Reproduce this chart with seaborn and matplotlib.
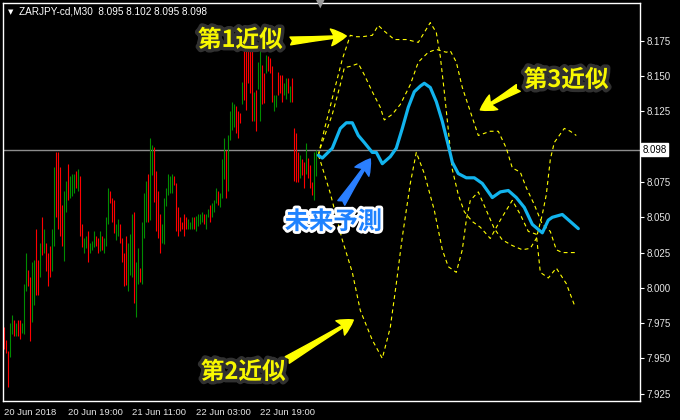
import numpy as np
import pandas as pd
import matplotlib
matplotlib.use("Agg")
import matplotlib.pyplot as plt
import matplotlib.transforms as mtransforms
import matplotlib.patheffects as pe
import seaborn as sns

# candles (M30): high, low and direction (g = up, r = down)
highs = [7.972, 7.963, 7.955, 7.975, 7.981, 7.977, 7.975, 7.977, 7.977, 7.975,
         8.003, 8.025, 8.013, 8.008, 8.018, 8.020, 8.042, 8.020, 8.032, 8.050,
         8.042, 8.032, 8.025, 8.030, 8.042, 8.086, 8.096, 8.096, 8.086, 8.059,
         8.069, 8.076, 8.088, 8.079, 8.081, 8.081, 8.083, 8.084, 8.079, 8.045,
         8.035, 8.037, 8.040, 8.032, 8.033, 8.040, 8.037, 8.035, 8.040, 8.037,
         8.035, 8.050, 8.071, 8.069, 8.064, 8.062, 8.045, 8.049, 8.045, 8.035,
         8.025, 8.037, 8.032, 8.038, 8.052, 8.054, 8.018, 8.028, 8.014, 8.047,
         8.067, 8.076, 8.081, 8.106, 8.101, 8.100, 8.083, 8.069, 8.052, 8.045,
         8.064, 8.071, 8.081, 8.079, 8.081, 8.079, 8.074, 8.057, 8.050, 8.047,
         8.052, 8.050, 8.049, 8.047, 8.050, 8.050, 8.051, 8.052, 8.052, 8.054,
         8.052, 8.052, 8.056, 8.059, 8.060, 8.062, 8.071, 8.069, 8.067, 8.091,
         8.106, 8.098, 8.108, 8.125, 8.132, 8.130, 8.129, 8.125, 8.124, 8.146,
         8.169, 8.169, 8.169, 8.169, 8.170, 8.139, 8.140, 8.160, 8.169, 8.158,
         8.152, 8.165, 8.164, 8.163, 8.157, 8.137, 8.137, 8.153, 8.151, 8.151,
         8.145, 8.149, 8.149, 8.143, 8.149, 8.113, 8.110, 8.096, 8.094, 8.091,
         8.089, 8.103, 8.092, 8.087, 8.075, 8.096, 8.098]
lows = [7.957, 7.954, 7.930, 7.951, 7.967, 7.966, 7.966, 7.966, 7.964, 7.968,
        7.967, 7.998, 8.001, 7.962, 7.976, 7.988, 7.995, 7.995, 8.008, 8.023,
        8.025, 8.012, 8.001, 8.008, 8.012, 8.030, 8.050, 8.042, 8.037, 8.030,
        8.019, 8.054, 8.062, 8.064, 8.065, 8.067, 8.071, 8.069, 8.037, 8.029,
        8.025, 8.028, 8.018, 8.025, 8.027, 8.029, 8.030, 8.025, 8.026, 8.027,
        8.025, 8.030, 8.045, 8.060, 8.047, 8.039, 8.034, 8.037, 8.032, 8.018,
        8.001, 8.002, 7.998, 8.009, 8.008, 7.989, 7.979, 8.003, 8.004, 8.003,
        8.035, 8.047, 8.047, 8.048, 8.080, 8.061, 8.040, 8.035, 8.025, 8.032,
        8.031, 8.058, 8.066, 8.067, 8.067, 8.073, 8.040, 8.037, 8.040, 8.042,
        8.037, 8.042, 8.042, 8.042, 8.042, 8.042, 8.040, 8.044, 8.045, 8.047,
        8.045, 8.042, 8.050, 8.047, 8.050, 8.054, 8.060, 8.059, 8.057, 8.064,
        8.077, 8.064, 8.069, 8.105, 8.112, 8.114, 8.110, 8.106, 8.117, 8.130,
        8.133, 8.126, 8.145, 8.138, 8.118, 8.118, 8.111, 8.141, 8.118, 8.130,
        8.131, 8.152, 8.154, 8.152, 8.132, 8.125, 8.128, 8.137, 8.138, 8.132,
        8.137, 8.134, 8.138, 8.132, 8.132, 8.076, 8.075, 8.075, 8.078, 8.080,
        8.071, 8.081, 8.078, 8.071, 8.066, 8.062, 8.079]
direction = ("rrrggrgrrg" "ggrrggrrgr" "grrrggrrrr" "ggrgggrgrr" "ggrgggrrgr"
             "gggrrrggrr" "rrgggrggrg" "ggrggrrrrg" "gggggrrrrr" "rrgggrgggg"
             "rggrgggrgg" "grggggrrrg" "rrrrrgrggr" "rgrrrggrrr" "ggrgrrrrgr"
             "rgrrrgg")

# forecast lines: bars after the last candle, price
blue_k = [1, 3, 8, 12, 15, 18, 21, 24, 28, 30, 33, 37, 40, 43, 46, 49, 52, 54, 57, 60,
          63, 66, 68, 71, 75, 79, 83, 88, 92, 96, 100, 104, 108, 113, 116, 118, 123, 127, 131]
blue_p = [8.094, 8.092, 8.099, 8.113, 8.117, 8.117, 8.108, 8.103, 8.096, 8.096,
          8.088, 8.093, 8.099, 8.113, 8.128, 8.139, 8.143, 8.145, 8.142, 8.132,
          8.118, 8.101, 8.089, 8.081, 8.078, 8.078, 8.074, 8.064, 8.068, 8.069,
          8.064, 8.057, 8.045, 8.039, 8.048, 8.050, 8.052, 8.047, 8.042]

approx1_k = [1, 4, 9, 13, 17, 20, 23, 28, 31, 34, 39, 45, 51, 54, 57, 60, 62, 64, 66, 68,
             71, 74, 78, 82, 87, 92, 98, 102, 106, 110, 112, 116, 120, 125, 129]
approx1_p = [8.094, 8.112, 8.140, 8.162, 8.179, 8.178, 8.178, 8.179, 8.186, 8.182,
             8.176, 8.176, 8.174, 8.181, 8.188, 8.181, 8.164, 8.139, 8.112, 8.084,
             8.066, 8.054, 8.047, 8.043, 8.035, 8.048, 8.062, 8.052, 8.040, 8.038,
             8.011, 8.007, 8.014, 8.003, 7.988]

approx2_k = [1, 2, 7, 13, 18, 22, 28, 33, 37, 40, 43, 47, 50, 54, 59, 63, 66, 70, 73, 75,
             77, 81, 85, 89, 93, 98, 103, 107, 110, 113, 115, 117, 119, 124, 127, 130]
approx2_p = [8.094, 8.090, 8.067, 8.034, 8.011, 7.984, 7.963, 7.950, 7.972, 8.003,
             8.036, 8.074, 8.096, 8.081, 8.055, 8.027, 8.015, 8.011, 8.027, 8.048,
             8.062, 8.068, 8.055, 8.042, 8.034, 8.030, 8.027, 8.028, 8.035, 8.052,
             8.066, 8.091, 8.103, 8.113, 8.111, 8.108]

approx3_k = [1, 2, 8, 12, 14, 17, 21, 24, 28, 32, 34, 38, 42, 47, 51, 56, 60, 65, 67, 70,
             73, 77, 81, 87, 91, 95, 98, 102, 105, 109, 113, 117, 120, 123, 130]
approx3_p = [8.094, 8.099, 8.123, 8.144, 8.156, 8.157, 8.159, 8.151, 8.139, 8.128,
             8.119, 8.123, 8.130, 8.144, 8.160, 8.167, 8.169, 8.167, 8.168, 8.160,
             8.142, 8.125, 8.108, 8.111, 8.111, 8.099, 8.085, 8.082, 8.071, 8.059,
             8.045, 8.040, 8.027, 8.025, 8.025]

price_ticks = [7.925, 7.950, 7.975, 8.000, 8.025, 8.050, 8.075, 8.100, 8.125, 8.150, 8.175]
time_ticks = [0, 32, 64, 96, 128]
time_labels = ["20 Jun 2018", "20 Jun 19:00", "21 Jun 11:00", "22 Jun 03:00", "22 Jun 19:00"]
last_price = 8.098

sns.set_style("dark", {"axes.facecolor": "black", "figure.facecolor": "black"})
plt.rcParams["font.family"] = ["Liberation Sans", "Noto Sans CJK JP", "DejaVu Sans"]

candles = pd.DataFrame({"high": highs, "low": lows, "dir": list(direction)})
candles["idx"] = np.arange(len(candles))
last = candles["idx"].iloc[-1]

fig, ax = plt.subplots(figsize=(6.8, 4.2), dpi=100)
ax.set_position([3 / 680, 19 / 420, 637 / 680, 398 / 420])

# last price line
ax.axhline(last_price, color="#8c8c8c", lw=1, zorder=1)

cols = candles["dir"].map({"g": "#008c00", "r": "#ff0000"})
ax.vlines(candles["idx"], candles["low"], candles["high"], colors=cols, lw=0.8, zorder=2)

dash = (0, (3.5, 3))
for k, p in [(approx1_k, approx1_p), (approx2_k, approx2_p), (approx3_k, approx3_p)]:
    sns.lineplot(x=last + np.array(k), y=p, ax=ax, color="#ffff00", lw=0.8,
                 linestyle=dash, sort=False, zorder=3)
sns.lineplot(x=last + np.array(blue_k), y=blue_p, ax=ax, color="#12b4ee", lw=2.3,
             sort=False, zorder=4)

ax.set_xlim(-0.65, 317.85)
ax.set_ylim(7.9198, 8.2019)

for sp in ax.spines.values():
    sp.set_color("white")
    sp.set_linewidth(1)

# the 8.100 label sits under the last-price box, so it stays blank
ax.yaxis.tick_right()
ax.set_yticks(price_ticks, ["" if abs(t - 8.1) < 1e-9 else f"{t:.3f}" for t in price_ticks])
ax.set_xticks(time_ticks, time_labels)
for lbl in ax.get_xticklabels():
    lbl.set_ha("left")
ax.tick_params(axis="y", colors="white", labelcolor="#e6e6e6", length=3, width=0.8,
               labelsize=7, pad=2, direction="out")
ax.tick_params(axis="x", colors="white", labelcolor="#e6e6e6", length=3, width=0.8,
               labelsize=6.8, pad=2, direction="out")
ax.set_xlabel("")
ax.set_ylabel("")
ax.grid(False)

# price label box
trans = mtransforms.blended_transform_factory(ax.transAxes, ax.transData)
ax.text(1.004, last_price, f"{last_price:.3f}", transform=trans, ha="left", va="center",
        fontsize=7, color="black", clip_on=False, zorder=6,
        bbox=dict(boxstyle="square,pad=0.15", fc="white", ec="white"))

# header
fig.text(8 / 680, 1 - 12 / 420, "▼", color="white", fontsize=5, va="center",
         family="DejaVu Sans")
fig.text(19 / 680, 1 - 12 / 420, "ZARJPY-cd,M30  8.095 8.102 8.095 8.098",
         color="white", fontsize=7.2, va="center")
fig.text(320 / 680, 1 - 4 / 420, "▼", color="#9a9a9a", fontsize=8, ha="center",
         va="center", family="DejaVu Sans")

# annotations
cjk = "Noto Sans CJK JP"
glow = [pe.withStroke(linewidth=5, foreground="#303030")]
outline = [pe.withStroke(linewidth=4, foreground="white")]

def yellow_label(text, tx, ty, ax_from, ax_to):
    ax.text(tx, ty, text, color="#f8f800", fontsize=17, fontweight="bold", family=cjk,
            ha="center", va="center", path_effects=glow, zorder=7)
    ax.annotate("", xy=ax_to, xytext=ax_from, zorder=7,
                arrowprops=dict(arrowstyle="fancy,head_length=0.55,head_width=0.6,tail_width=0.28",
                                fc="#ffff00", ec="#ffff00", mutation_scale=20,
                                shrinkA=0, shrinkB=0))

yellow_label("第1近似", 118, 8.1757, (143, 8.175), (171, 8.1785))
yellow_label("第2近似", 119.5, 7.9404, (141.5, 7.9489), (174.5, 7.9772))
yellow_label("第3近似", 281, 8.1474, (257, 8.1417), (238, 8.1261))

ax.text(164.5, 8.0467, "未来予測", color="#1e82ff", fontsize=17.5, fontweight="bold",
        family=cjk, ha="center", va="center", path_effects=outline, zorder=7)
ax.annotate("", xy=(183, 8.0914), xytext=(168.5, 8.0602), zorder=7,
            arrowprops=dict(arrowstyle="fancy,head_length=0.55,head_width=0.6,tail_width=0.3",
                            fc="#2a7fff", ec="#2a7fff", mutation_scale=20,
                            shrinkA=0, shrinkB=0))

fig.savefig("out.png", dpi=100, facecolor="black")
